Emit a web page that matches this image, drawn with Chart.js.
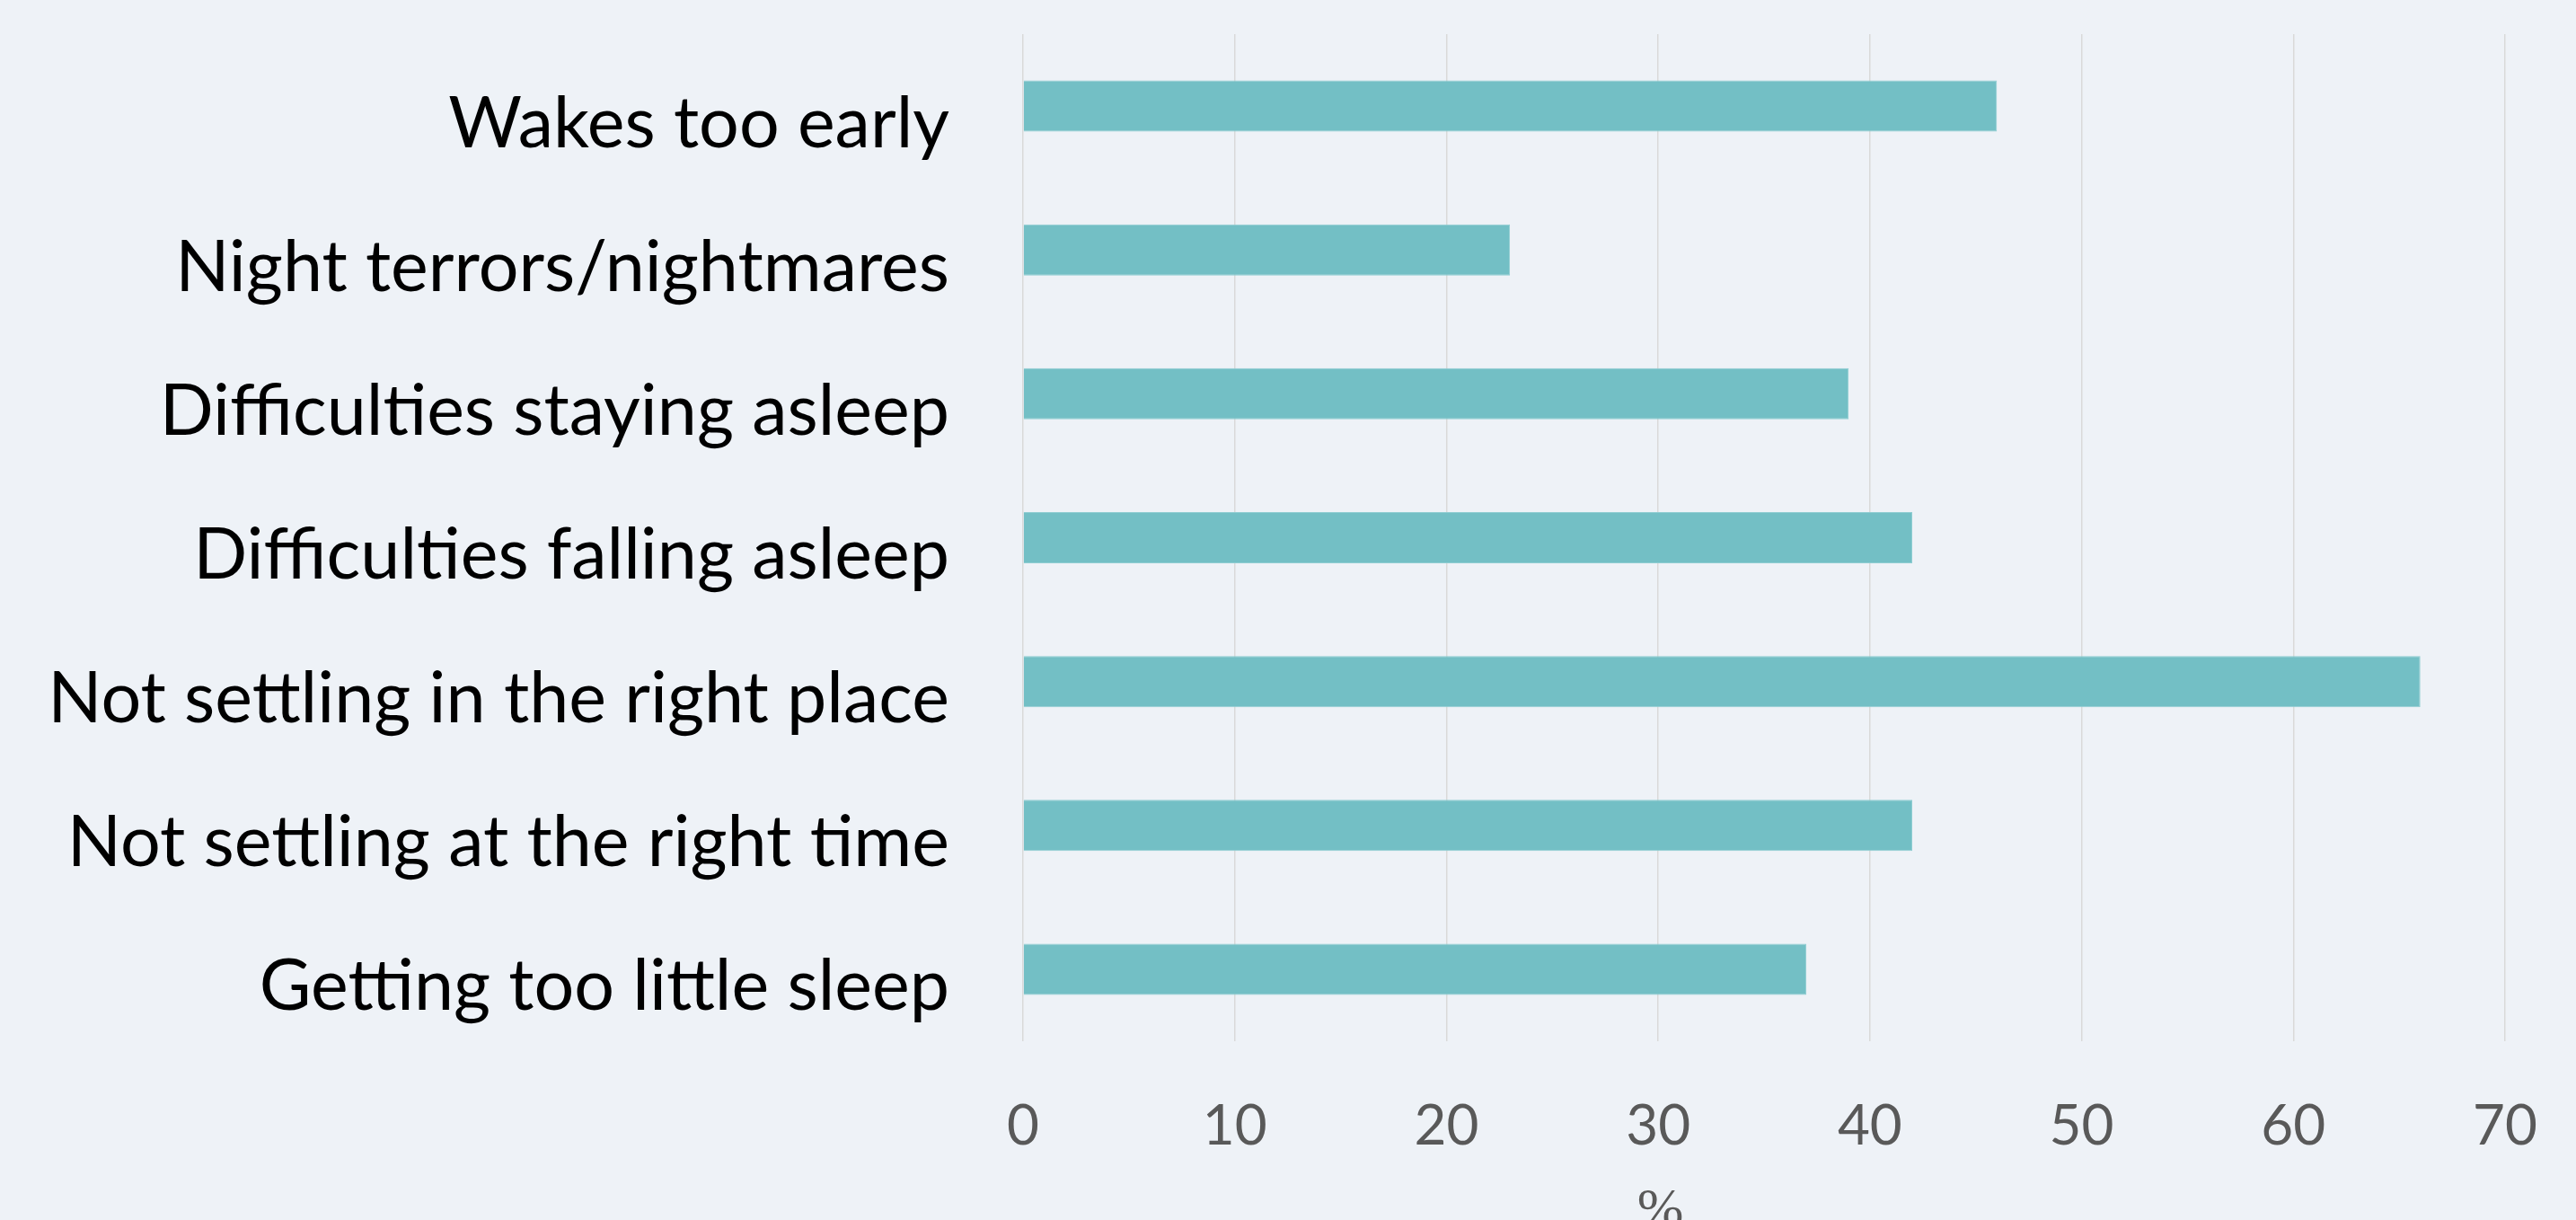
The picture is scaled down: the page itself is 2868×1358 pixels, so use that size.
<!DOCTYPE html>
<html>
<head>
<meta charset="utf-8">
<script src="https://cdn.jsdelivr.net/npm/chart.js@4"></script>
<style>
  html, body { margin: 0; padding: 0; background: #EEF2F7; }
  #wrap { width: 2868px; height: 1358px; position: relative; }
</style>
</head>
<body>
<div id="wrap"><canvas id="c" width="2868" height="1358"></canvas></div>
<script>
const categories = [
  'Wakes too early',
  'Night terrors/nightmares',
  'Difficulties staying asleep',
  'Difficulties falling asleep',
  'Not settling in the right place',
  'Not settling at the right time',
  'Getting too little sleep'
];
const percentValues = [46, 23, 39, 42, 66, 42, 37];
const xTickValues = [0, 10, 20, 30, 40, 50, 60, 70];
const axisTitle = '%';

// fit label font so longest label width resembles the reference
const mctx = document.createElement('canvas').getContext('2d');
mctx.font = '100px Lato';
const refW = mctx.measureText('Night terrors/nightmares').width;
const labelSize = Math.round(100 * 862 / refW);

const titlePlugin = {
  id: 'pctTitle',
  afterDraw(chart) {
    const ctx = chart.ctx;
    const xs = chart.scales.x;
    ctx.save();
    ctx.font = '62px "Liberation Serif", "DejaVu Serif", serif';
    ctx.fillStyle = '#595959';
    ctx.textAlign = 'center';
    ctx.textBaseline = 'top';
    ctx.fillText(axisTitle, xs.left + (xs.right - xs.left) * 0.43, 1318);
    ctx.restore();
  }
};

new Chart(document.getElementById('c'), {
  type: 'bar',
  data: {
    labels: categories,
    datasets: [{
      data: percentValues,
      backgroundColor: '#73BFC5',
      borderColor: '#8FCDD2',
      borderWidth: 1,
      categoryPercentage: 1,
      barPercentage: 0.356
    }]
  },
  options: {
    indexAxis: 'y',
    responsive: false,
    animation: false,
    devicePixelRatio: 1,
    layout: { padding: { left: 0, right: 79, top: 38, bottom: 0 } },
    plugins: { legend: { display: false }, tooltip: { enabled: false }, title: { display: false } },
    scales: {
      x: {
        min: 0, max: 70,
        afterBuildTicks(scale) { scale.ticks = xTickValues.map(v => ({ value: v })); },
        afterFit(scale) {
          scale.height = 199;
          scale.paddingLeft = 0; scale.paddingRight = 0;
          scale.paddingTop = 0; scale.paddingBottom = 0;
        },
        grid: { color: '#D9D9D9', lineWidth: 1.5, drawTicks: false },
        border: { display: false },
        ticks: {
          padding: 58,
          color: '#595959',
          font: { family: 'Lato', size: 62 },
          maxRotation: 0
        }
      },
      y: {
        afterFit(scale) {
          scale.width = 1139;
          scale.paddingLeft = 0; scale.paddingRight = 0;
          scale.paddingTop = 0; scale.paddingBottom = 0;
        },
        grid: { display: false, drawTicks: false },
        border: { display: false },
        ticks: {
          padding: 82,
          labelOffset: 20,
          color: '#000000',
          font: { family: 'Lato', size: labelSize }
        }
      }
    }
  },
  plugins: [titlePlugin]
});
</script>
</body>
</html>
